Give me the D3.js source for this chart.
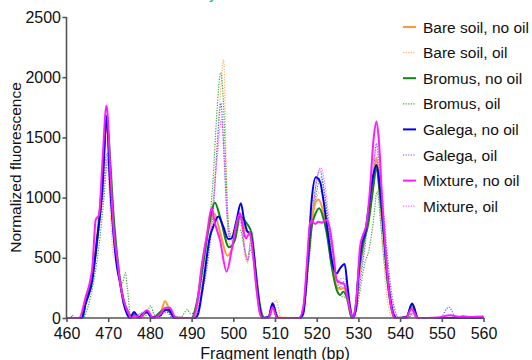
<!DOCTYPE html>
<html>
<head>
<meta charset="utf-8">
<script src="https://d3js.org/d3.v7.min.js"></script>
<style>
  body { margin: 0; background: #fff; }
  svg { display: block; font-family: "Liberation Sans", Arial, sans-serif; }
</style>
</head>
<body>
<svg width="532" height="360"></svg>
<script>
// fragment length (bp), normalized fluorescence
var bareNoOil = [[460,0],[463.5,0],[464.6,150],[466.2,380],[467.4,700],[468.6,1150],[469.7,1600],[470.6,1100],[471.3,720],[472.1,480],[472.9,270],[473.7,140],[474.9,40],[475.6,0],[476.5,35],[477.3,0],[479.3,55],[480.8,5],[482.3,20],[483.6,140],[484.7,70],[485.9,5],[490.2,0],[491.2,94],[492.8,510],[494.4,787],[495.4,870],[496.8,717],[498.6,518],[499.6,565],[501.6,870],[502.8,731],[504.0,703],[504.8,510],[505.6,233],[506.5,20],[507.2,0],[508.5,5],[509.5,80],[510.6,5],[515.8,0],[516.8,80],[518,520],[518.8,820],[519.6,950],[520.4,985],[521.6,880],[522.4,740],[523.6,450],[524.8,260],[525.6,240],[526.4,250],[527.4,170],[528.4,0],[529.5,100],[530.2,380],[531.2,640],[532.4,820],[533.6,1130],[534.3,1330],[535.1,1100],[536.1,700],[536.9,350],[537.7,120],[538.5,10],[539.2,0],[541.5,10],[542.8,90],[544.2,0],[560,0]];

var bareOil = [[460,0],[463.5,0],[464.6,150],[466.2,350],[467.4,600],[468.6,950],[469.8,1250],[470.6,800],[471.2,520],[472.0,450],[472.9,250],[474,80],[475,0],[479.5,40],[480.8,0],[484,70],[485.5,0],[490.5,0],[491.2,39],[492.8,343],[494.4,676],[495.6,1174],[496.8,1811],[497.7,2144],[498.4,1119],[499.2,676],[500,731],[501.6,787],[502.8,510],[503.4,454],[504.2,676],[505,510],[505.8,177],[506.6,20],[507.3,0],[508.8,10],[510.3,150],[511.4,5],[516,0],[517,150],[518,500],[519,800],[520,1000],[521,1050],[522,950],[523,700],[524,450],[525,300],[526,280],[526.8,300],[527.6,150],[528.5,0],[529.5,150],[530.5,400],[531.5,650],[532.5,900],[533.6,1250],[534.3,1380],[535,1000],[535.8,600],[536.6,250],[537.4,60],[538,0],[541.5,0],[542.5,30],[543.5,0],[560,0]];

var bromusNoOil = [[460,0],[463.8,0],[464.6,130],[466.2,350],[467.4,650],[468.6,1150],[469.7,1650],[470.5,1300],[471.3,850],[472.1,540],[472.9,300],[473.7,150],[474.9,40],[475.5,0],[476.5,35],[477.3,0],[479.3,45],[480.6,0],[483.5,70],[484.8,50],[486,0],[490,0],[491.2,122],[492.8,454],[494.0,731],[495.6,958],[496.8,842],[499.0,587],[500.4,648],[501.6,842],[503.2,787],[504.4,703],[505.2,454],[506.0,205],[506.8,39],[507.5,0],[508.5,10],[509.4,108],[510.5,10],[511,0],[515.8,0],[516.8,66],[518,482],[518.8,759],[519.6,856],[520.6,911],[521.6,828],[522.4,704],[523.6,427],[524.8,233],[525.6,191],[526.4,219],[527.4,150],[528.4,0],[529.2,60],[530,343],[531.2,620],[532.4,787],[533.7,1119],[534.3,1258],[535.1,1036],[536.1,676],[536.9,343],[537.7,122],[538.5,11],[539,0],[541.5,5],[542.8,115],[544.3,0],[553,0],[555,12],[557,8],[560,12]];

var bromusOil = [[460,0],[464,0],[465.2,100],[466.5,300],[467.8,600],[469,1000],[469.8,1300],[470.7,1000],[471.6,650],[472.3,450],[472.9,320],[473.4,290],[474.1,375],[474.6,250],[475.3,30],[476,0],[478.8,10],[480.2,100],[481,30],[482.3,10],[483.8,90],[485.5,10],[487.5,10],[489,70],[489.6,40],[490.4,39],[491.6,177],[493.2,510],[494.4,842],[495.2,1174],[496.0,1673],[497.0,2039],[497.6,1811],[498.2,1258],[498.8,787],[499.6,676],[500.8,731],[501.6,731],[502.8,565],[503.4,482],[504.0,565],[504.8,482],[505.6,233],[506.6,39],[507.4,0],[508.6,10],[509.6,100],[510.8,5],[516,0],[517,80],[518,400],[519,800],[520,1050],[521,1170],[522,1000],[523,700],[524,400],[525,230],[526,180],[527,170],[527.8,60],[528.5,0],[529.5,60],[530.5,250],[531.5,450],[532.5,560],[533.5,780],[534.5,1050],[535.3,800],[536.1,500],[537,250],[538,80],[539,0],[542,0],[543,40],[544,0],[553,0],[555,15],[556.5,5],[558,15],[560,10]];

var galegaNoOil = [[460,0],[463.6,0],[464.6,120],[466.2,314],[467.4,675],[468.6,1065],[469.4,1600],[469.7,1680],[470.2,1287],[471.0,815],[472.1,425],[472.9,286],[473.7,120],[474.5,36],[475.2,0],[476.2,50],[477.2,5],[479.2,55],[480.5,5],[482.5,20],[483.3,60],[484.5,70],[485.8,5],[486.5,0],[490.8,0],[491.6,39],[492.8,288],[494.4,676],[495.2,759],[496.4,842],[497.6,759],[498.8,656],[499.6,662],[500.8,814],[501.8,953],[502.6,814],[503.4,717],[504.0,703],[504.8,565],[505.6,288],[506.4,66],[507,0],[508.5,10],[509.4,122],[510.6,0],[516,0],[516.8,39],[518.0,565],[518.8,981],[519.8,1169],[520.8,1133],[521.6,981],[522.8,676],[523.6,482],[524.8,371],[525.6,413],[526.7,449],[527.4,260],[528.0,94],[528.7,0],[529.5,94],[530.0,371],[530.8,620],[531.6,704],[532.4,897],[533.5,1174],[534.3,1271],[535.3,1036],[536.1,704],[536.9,371],[537.7,150],[538.5,25],[539.2,0],[541.6,10],[542.9,120],[544.3,0],[560,0]];

var galegaOil = [[460,0],[461,0],[461.4,25],[461.9,0],[464,0],[464.6,120],[466.2,330],[467.4,650],[468.6,1000],[469.7,1370],[470.6,1000],[471.4,650],[472.2,450],[473,250],[474,90],[475,0],[479.5,50],[480.8,0],[484,50],[485.5,0],[490.5,0],[491,30],[492.5,200],[494,500],[495.2,900],[496.2,1450],[497.0,1784],[497.7,1400],[498.4,900],[499.0,680],[499.8,640],[501,780],[501.8,820],[502.8,550],[503.5,480],[504.2,620],[505,480],[505.8,200],[506.6,30],[507.3,0],[508.6,10],[509.6,110],[511,0],[516,0],[516.5,30],[517.8,400],[518.8,800],[519.8,1100],[520.8,1230],[521.6,1100],[522.6,850],[523.6,600],[524.6,350],[525.6,250],[526.4,300],[527.2,230],[528.2,30],[528.9,0],[529.8,150],[530.6,350],[531.6,600],[532.6,900],[533.6,1200],[534.3,1450],[535.1,1250],[536,900],[537,500],[538,200],[539,40],[539.8,0],[542,0],[543,40],[544,0],[549.5,0],[551.7,90],[553.2,10],[554,0],[560,0]];

var mixtureNoOil = [[460,0],[463,0],[464.6,175],[466.2,425],[467.0,815],[467.8,856],[468.6,1287],[469.6,1765],[470.6,1148],[471.3,731],[472.1,509],[472.9,286],[473.7,147],[474.9,36],[475.5,0],[476.4,20],[477.5,0],[479.3,65],[480.8,0],[482.5,30],[483.7,85],[484.8,85],[486,10],[487,0],[490.2,0],[491.2,94],[492.4,427],[493.6,676],[494.8,911],[495.6,787],[496.8,648],[498.4,385],[499.6,565],[500.8,787],[501.6,870],[502.4,731],[503.0,662],[504.0,709],[504.8,510],[505.6,233],[506.4,39],[507,0],[508.5,5],[509.4,89],[510.5,0],[515.8,0],[516.8,94],[517.6,427],[518.4,787],[518.8,809],[519.6,781],[520.4,800],[521.2,792],[522.4,814],[523.2,731],[524.0,537],[524.8,316],[525.6,294],[526.4,288],[527.2,205],[528.0,66],[528.7,0],[529.5,150],[530.4,593],[531.1,690],[531.9,773],[532.7,1036],[533.7,1507],[534.3,1632],[534.9,1479],[535.7,981],[536.5,565],[537.3,233],[538.1,53],[538.8,0],[541.5,5],[542.7,75],[544.3,0],[549,5],[552,22],[554,10],[560,8]];

var mixtureOil = [[460,0],[463.6,0],[464.6,150],[466.2,380],[467.4,650],[468.6,1000],[469.7,1320],[470.6,950],[471.4,650],[472.2,430],[473,230],[474,80],[475,0],[479.5,60],[480.8,0],[484.3,60],[485.6,0],[490.5,0],[491.2,60],[492.6,300],[494,600],[495.2,950],[496.2,1350],[497.2,1650],[497.9,1300],[498.5,850],[499.3,600],[500.2,620],[501.2,760],[501.9,800],[502.8,560],[503.5,470],[504.2,650],[505,470],[505.8,180],[506.6,20],[507.3,0],[508.6,10],[509.6,90],[511,0],[516,0],[517,100],[518,450],[519,850],[520,1150],[521,1250],[522,1100],[523,800],[524,500],[525,300],[526,330],[526.8,330],[527.6,180],[528.5,0],[529.6,120],[530.6,400],[531.6,650],[532.6,950],[533.6,1300],[534.3,1420],[535.1,1200],[536,800],[537,400],[538,150],[539,30],[539.7,0],[541.8,0],[542.8,50],[543.8,0],[560,0]];

var seriesNames = ["Bare soil, no oil", "Bare soil, oil", "Bromus, no oil", "Bromus, oil",
                   "Galega, no oil", "Galega, oil", "Mixture, no oil", "Mixture, oil"];
var seriesData = [bareNoOil, bareOil, bromusNoOil, bromusOil, galegaNoOil, galegaOil, mixtureNoOil, mixtureOil];
var xTicks = [460, 470, 480, 490, 500, 510, 520, 530, 540, 550, 560];
var yTicks = [0, 500, 1000, 1500, 2000, 2500];

// styles, same order as seriesNames
var colors = ["#ff9a2e", "#ffb066", "#128512", "#3da33d", "#0000f0", "#5a5aff", "#ff1cff", "#ff66ff"];
var dotted = [false, true, false, true, false, true, false, true];

var svg = d3.select("svg"),
    margin = {top: 17, left: 66.5},
    width = 417,
    height = 301,
    g = svg.append("g").attr("transform", "translate(" + margin.left + "," + margin.top + ")");

var x = d3.scaleLinear().domain([460, 560]).range([0, width]),
    y = d3.scaleLinear().domain([0, 2500]).range([height, 0]);

var line = d3.line()
    .x(function(d) { return x(d[0]); })
    .y(function(d) { return y(d[1]); })
    .curve(d3.curveMonotoneX);

// cut-off title remnant at the top edge
svg.append("text").attr("x", 209).attr("y", -1)
    .style("font-size", "16px").style("fill", "#19b894").text("y");

// oil (dotted) traces underneath, then the solid ones
var order = [1, 3, 5, 7, 0, 2, 4, 6];
order.forEach(function(i) {
  g.append("path")
    .attr("d", line(seriesData[i]))
    .attr("fill", "none")
    .attr("stroke", colors[i])
    .attr("stroke-width", dotted[i] ? 1.2 : 2)
    .attr("stroke-dasharray", dotted[i] ? "1.2,1.4" : null)
    .attr("stroke-linejoin", "round");
});

var xAxis = g.append("g")
    .attr("transform", "translate(0," + height + ")")
    .call(d3.axisBottom(x).tickValues(xTicks).tickSize(4).tickPadding(6).tickFormat(d3.format("d")));
var yAxis = g.append("g")
    .call(d3.axisLeft(y).tickValues(yTicks).tickSize(4).tickPadding(1.5).tickFormat(d3.format("d")));

[xAxis, yAxis].forEach(function(a) {
  a.select(".domain").attr("stroke", "#555").attr("stroke-width", 1.6);
  a.selectAll(".tick line").attr("stroke", "#555").attr("stroke-width", 1.6);
  a.selectAll(".tick text").style("font-size", "16px").style("fill", "#111")
    .style("font-family", "'Liberation Sans', Arial, sans-serif");
});
yAxis.select(".domain").attr("d", "M0," + height + "V0");
xAxis.select(".domain").attr("d", "M0,0H" + width);

svg.append("text")
    .attr("x", margin.left + width / 2).attr("y", 359)
    .attr("text-anchor", "middle")
    .style("font-size", "16px").style("fill", "#111")
    .text("Fragment length (bp)");

svg.append("text")
    .attr("transform", "translate(21," + (margin.top + height / 2) + ") rotate(-90)")
    .attr("text-anchor", "middle")
    .style("font-size", "15.5px").style("fill", "#111")
    .text("Normalized fluorescence");

// legend
var legend = svg.append("g").attr("transform", "translate(403,27)");
var item = legend.selectAll("g").data(seriesNames).enter().append("g")
    .attr("transform", function(d, i) { return "translate(0," + (i * 25.6) + ")"; });
item.append("line")
    .attr("x1", 0).attr("x2", 13).attr("y1", 0).attr("y2", 0)
    .attr("stroke", function(d, i) { return colors[i]; })
    .attr("stroke-width", function(d, i) { return dotted[i] ? 1.2 : 2; })
    .attr("stroke-dasharray", function(d, i) { return dotted[i] ? "1.2,1.4" : null; });
item.append("text")
    .attr("x", 20).attr("y", 5.5)
    .style("font-size", "15.5px").style("fill", "#111")
    .text(function(d) { return d; });
</script>
</body>
</html>
